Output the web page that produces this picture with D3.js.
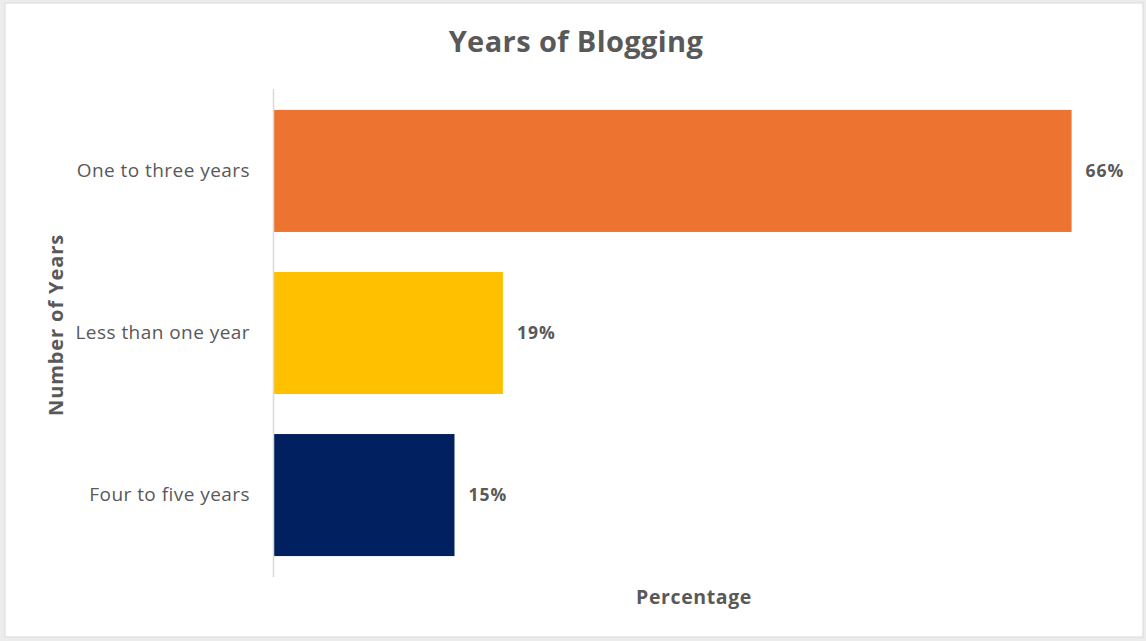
<!DOCTYPE html>
<html>
<head>
<meta charset="utf-8">
<script src="https://cdn.jsdelivr.net/npm/d3@7"></script>
<style>
  html, body { margin: 0; padding: 0; background: #ffffff; }
  svg { display: block; }
  text { font-family: "Open Sans", Lato, sans-serif; fill: #595959; }
</style>
</head>
<body>
<svg id="chart" width="1146" height="641"></svg>
<script>
// Survey answers: how long respondents have been blogging
const categories = ["One to three years", "Less than one year", "Four to five years"];
const percentages = [66, 19, 15];
const barColors = ["#EC7430", "#FFC000", "#002060"];

const W = 1146, H = 641;
const svg = d3.select("#chart");

// outer frame
svg.append("rect").attr("x", 0).attr("y", 0).attr("width", W).attr("height", H).attr("fill", "#ececec");
svg.append("rect").attr("x", 5).attr("y", 3).attr("width", 1138).attr("height", 634)
  .attr("fill", "#ffffff").attr("stroke", "#d9d9d9").attr("stroke-width", 1);

const plot = { left: 273, top: 89, bottom: 577 };

const x = d3.scaleLinear().domain([0, 70]).range([plot.left, plot.left + 847]);
const y = d3.scaleBand().domain(categories).range([plot.top + 1, plot.bottom - 1])
  .paddingInner(0.247).paddingOuter(0.123);

// bars
svg.append("g").selectAll("rect").data(categories).join("rect")
  .attr("x", x(0) + 1)
  .attr("y", d => y(d))
  .attr("width", (d, i) => x(percentages[i]) - x(0) - 1)
  .attr("height", y.bandwidth())
  .attr("fill", (d, i) => barColors[i]);

// category axis (line only, no ticks)
const yAxis = svg.append("g").attr("transform", `translate(${plot.left},0)`)
  .call(d3.axisLeft(y).tickSize(0).tickPadding(23));
yAxis.select(".domain").attr("d", `M0.5,${plot.top}V${plot.bottom}`).attr("stroke", "#d9d9d9").attr("stroke-width", 1.5);
yAxis.selectAll("text").attr("font-size", 19).attr("letter-spacing", 0.45).attr("fill", "#595959")
  .style("font-family", "'Open Sans', Lato, sans-serif");

// value labels
svg.append("g").selectAll("text").data(categories).join("text")
  .attr("x", (d, i) => x(percentages[i]) + 14)
  .attr("y", d => y(d) + y.bandwidth() / 2)
  .attr("dy", "0.35em")
  .attr("font-size", 17.5)
  .attr("letter-spacing", 1)
  .attr("font-weight", "bold")
  .text((d, i) => percentages[i] + "%");

// title
svg.append("text").attr("x", 576).attr("y", 52).attr("text-anchor", "middle")
  .attr("font-size", 29).attr("letter-spacing", 0.4).attr("font-weight", "bold").text("Years of Blogging");

// axis titles
svg.append("text").attr("x", 694).attr("y", 604).attr("text-anchor", "middle")
  .attr("font-size", 19.5).attr("letter-spacing", 0.6).attr("font-weight", "bold").text("Percentage");

svg.append("text").attr("transform", "translate(63,325) rotate(-90)").attr("text-anchor", "middle")
  .attr("font-size", 20).attr("letter-spacing", 0.9).attr("font-weight", "bold").text("Number of Years");
</script>
</body>
</html>
